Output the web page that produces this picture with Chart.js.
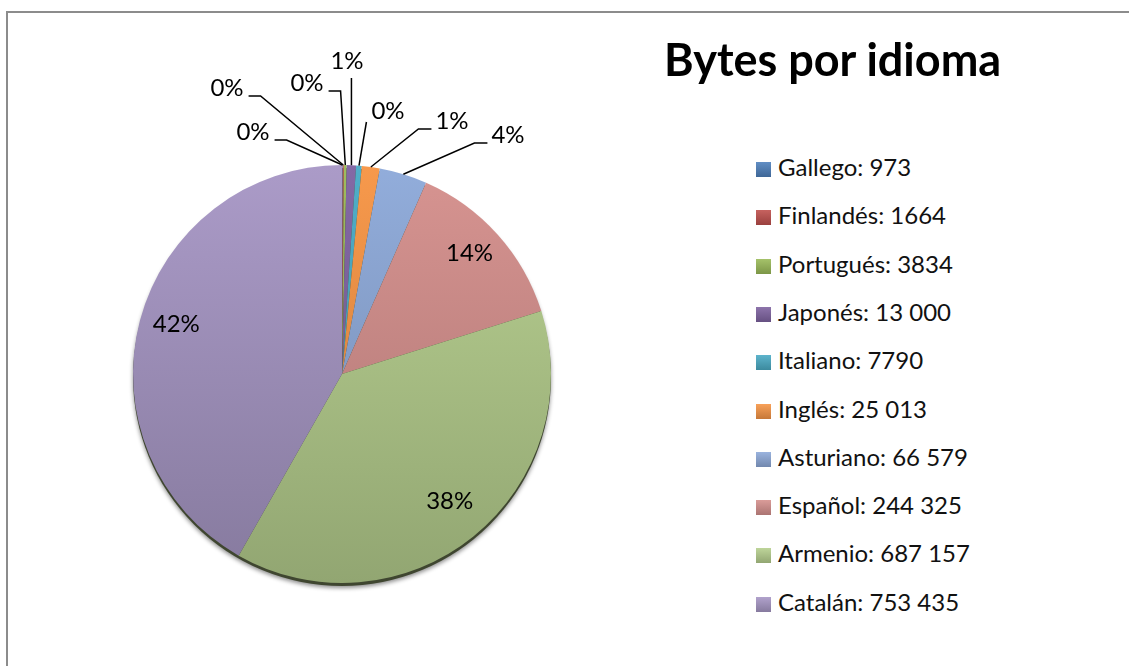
<!DOCTYPE html>
<html>
<head>
<meta charset="utf-8">
<script src="https://cdn.jsdelivr.net/npm/chart.js@4/dist/chart.umd.min.js"></script>
<style>
  html, body { margin: 0; background: #fff; font-family: Lato, "Noto Sans", sans-serif; overflow: hidden; }
  .rule { position: absolute; background: #8c8c8c; }
  #ruleTop { left: 6px; top: 11px; width: 1123px; height: 2px; }
  #ruleLeft { left: 6px; top: 11px; width: 2px; height: 655px; }
  #pieBox { position: absolute; left: 0; top: 0; width: 684px; height: 666px; }
  #title { position: absolute; left: 664px; top: 34px; font-size: 45px; font-weight: bold;
           color: #000; white-space: nowrap; line-height: 50px; }
  #legend { position: absolute; left: 756px; top: 0; }
  .item { position: absolute; left: 0; white-space: nowrap; font-size: 24px; color: #111;
          height: 30px; line-height: 30px; }
  .item span.sw { display: inline-block; width: 15px; height: 15px; margin-right: 7px;
                  vertical-align: -1px; }
</style>
</head>
<body>
<div class="rule" id="ruleTop"></div>
<div class="rule" id="ruleLeft"></div>
<div id="pieBox"><canvas id="pie"></canvas></div>
<div id="title">Bytes por idioma</div>
<div id="legend"></div>
<script>
// data
const languages = ["Gallego", "Finlandés", "Portugués", "Japonés", "Italiano",
                   "Inglés", "Asturiano", "Español", "Armenio", "Catalán"];
const bytes = [973, 1664, 3834, 13000, 7790, 25013, 66579, 244325, 687157, 753435];
const sliceColors = ["#4F81BD", "#C0504D", "#9BBB59", "#8064A2", "#4BACC6",
                     "#F79646", "#8FAADA", "#D6918E", "#B7D08F", "#A898C6"];

// label placement for the thin slices at the top (offset from pie centre, px; text centre x / baseline y)
const labelSpots = [
  { dx: -89, dy: -234, lead: "left" },
  { dx: -115, dy: -278, lead: "left" },
  { dx: -35, dy: -283, lead: "left" },
  { dx: 5, dy: -305, lead: "below" },
  { dx: 46, dy: -255, lead: "straight" },
  { dx: 110, dy: -245, lead: "right" },
  { dx: 166, dy: -231, lead: "right" },
];

function fmt(v) {
  if (v < 10000) return String(v);
  return String(v).replace(/\B(?=(\d{3})+(?!\d))/g, " ");
}

function shade(hex, amt) {
  let n = parseInt(hex.slice(1), 16);
  let r = (n >> 16) & 255, g = (n >> 8) & 255, b = n & 255;
  const f = (c) => amt >= 0 ? Math.round(c + (255 - c) * amt) : Math.round(c * (1 + amt));
  return "rgb(" + f(r) + "," + f(g) + "," + f(b) + ")";
}

// legend (html)
const legendEl = document.getElementById("legend");
languages.forEach((name, i) => {
  const d = document.createElement("div");
  d.className = "item";
  d.style.top = (152 + i * 48.3) + "px";
  const c = sliceColors[i];
  d.innerHTML = '<span class="sw" style="background:linear-gradient(' + shade(c, 0.1) + ',' + shade(c, -0.2) + ')"></span>' +
    name + ": " + fmt(bytes[i]);
  legendEl.appendChild(d);
});

const total = bytes.reduce((a, b) => a + b, 0);

const pieShadow = {
  id: "pieShadow",
  beforeDatasetsDraw(chart) {
    const arc = chart.getDatasetMeta(0).data[0];
    if (!arc) return;
    const { x, y, outerRadius } = arc.getProps(["x", "y", "outerRadius"], true);
    const ctx = chart.ctx;
    ctx.save();
    ctx.shadowColor = "rgba(0,0,0,0.45)";
    ctx.shadowBlur = 4;
    ctx.shadowOffsetY = 2;
    ctx.fillStyle = "#3f4630";
    ctx.beginPath();
    ctx.arc(x, y + 3, outerRadius, 0, Math.PI * 2);
    ctx.fill();
    ctx.restore();
  },
};

const pctLabels = {
  id: "pctLabels",
  afterDatasetsDraw(chart) {
    const ctx = chart.ctx;
    const meta = chart.getDatasetMeta(0);
    ctx.save();
    ctx.font = "24px Lato";
    ctx.fillStyle = "#000";
    ctx.strokeStyle = "#000";
    ctx.lineWidth = 1.5;
    meta.data.forEach((arc, i) => {
      const p = arc.getProps(["x", "y", "startAngle", "endAngle", "outerRadius"], true);
      const mid = (p.startAngle + p.endAngle) / 2;
      const pct = Math.round(bytes[i] / total * 100);
      const txt = pct + "%";
      if (i >= labelSpots.length) {
        const rr = p.outerRadius * 0.82;
        ctx.textAlign = "center";
        ctx.textBaseline = "middle";
        ctx.fillText(txt, p.x + Math.cos(mid) * rr, p.y + Math.sin(mid) * rr - 6);
        return;
      }
      const s = labelSpots[i];
      const tx = p.x + s.dx, ty = p.y + s.dy;
      const w = ctx.measureText(txt).width;
      ctx.textAlign = "center";
      ctx.textBaseline = "alphabetic";
      ctx.fillText(txt, tx, ty);
      const ax = p.x + Math.cos(mid) * p.outerRadius;
      const ay = p.y + Math.sin(mid) * p.outerRadius;
      ctx.beginPath();
      if (s.lead === "left") {
        ctx.moveTo(tx + w / 2 + 5, ty);
        ctx.lineTo(tx + w / 2 + 17, ty);
      } else if (s.lead === "right") {
        ctx.moveTo(tx - w / 2 - 4, ty);
        ctx.lineTo(tx - w / 2 - 17, ty);
      } else if (s.lead === "straight") {
        ctx.moveTo(tx - w / 2 - 5, ty + 3);
      } else {
        ctx.moveTo(ax, ty + 9);
      }
      ctx.lineTo(ax, ay);
      ctx.stroke();
    });
    ctx.restore();
  },
};

new Chart("pie", {
  type: "pie",
  data: {
    labels: languages,
    datasets: [
      {
        data: bytes,
        borderWidth: 0,
        backgroundColor: (c) => {
          const base = sliceColors[c.dataIndex];
          const area = c.chart.chartArea;
          if (!area) return base;
          const g = c.chart.ctx.createLinearGradient(0, area.top, 0, area.bottom);
          g.addColorStop(0, shade(base, 0.03));
          g.addColorStop(1, shade(base, -0.2));
          return g;
        },
      },
    ],
  },
  options: {
    responsive: true,
    maintainAspectRatio: false,
    animation: false,
    layout: {
      padding: { left: 133, right: 133, top: 165, bottom: 83 },
    },
    plugins: {
      legend: { display: false },
      tooltip: { enabled: false },
      title: { display: false },
    },
  },
  plugins: [pieShadow, pctLabels],
});
</script>
</body>
</html>
